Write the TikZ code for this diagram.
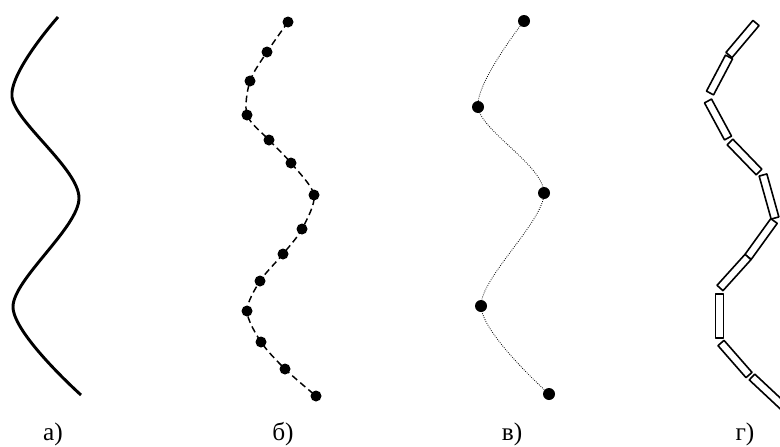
\documentclass[tikz,border=0pt]{standalone}
\usepackage{fontspec}
\setmainfont{Liberation Serif}
\usetikzlibrary{calc}

\begin{document}
\begin{tikzpicture}[x=0.75pt,y=-0.75pt,
    lbl/.style={font=\fontsize{19}{21}\selectfont},
    linkbar/.style={line width=1.2pt, line join=round, fill=white}]
    \clip (0,0) rectangle (780,446);
    % a) continuous chain
    \coordinate (A1) at (58,17);
    \coordinate (A2) at (12,97);
    \coordinate (A3) at (79,198);
    \coordinate (A4) at (13,307);
    \coordinate (A5) at (81,395);
    \draw[line width=2.2pt] plot[smooth] coordinates {(A1) (A2) (A3) (A4) (A5)};
    % b) beads with dashed bonds
    \foreach \x/\y [count=\i] in {288/22,267/52,250/81,247/115,269/140,291/163,314/195,
                                  302/229,283/254,260/281,247/311,261/342,285/369,316/396}
        {\coordinate (B\i) at (\x,\y);}
    \draw[line width=1.1pt, dash pattern=on 5pt off 3pt] plot[smooth] coordinates
        {(B1) (B2) (B3) (B4) (B5) (B6) (B7) (B8) (B9) (B10) (B11) (B12) (B13) (B14)};
    \foreach \i in {1,...,14} {\fill (B\i) circle (5.5);}
    % v) few beads, dotted
    \coordinate (C1) at (524,21);
    \coordinate (C2) at (478,107);
    \coordinate (C3) at (544,193);
    \coordinate (C4) at (481,306);
    \coordinate (C5) at (549,394);
    \draw[line width=0.6pt, densely dotted] plot[smooth] coordinates {(C1) (C2) (C3) (C4) (C5)};
    \foreach \p in {C1,C2,C3,C4,C5} {\fill (\p) circle (6);}
    % g) rigid segments
    \foreach \x/\y [count=\i] in {756/23,729/55, 729/57,710/93, 708/101,728/138, 730/142,759/172,
                                  763/175,775/218, 774/221,748/257, 748/257,720/288, 719.5/294,719.5/338,
                                  721/343,749/375, 752/377,783/406}
        {\coordinate (G\i) at (\x,\y);}
    \foreach \p/\q in {G1/G2,G3/G4,G5/G6,G7/G8,G9/G10,G11/G12,G13/G14,G15/G16,G17/G18,G19/G20}
        {\draw[linkbar] ($(\p)!3pt!90:(\q)$) -- ($(\q)!3pt!-90:(\p)$)
                     -- ($(\q)!3pt!90:(\p)$) -- ($(\p)!3pt!-90:(\q)$) -- cycle;}
    % labels
    \node[lbl] (la) at (53,434) {а)};
    \node[lbl] (lb) at (283,434) {б)};
    \node[lbl] (lv) at (512,434) {в)};
    \node[lbl] (lg) at (745,434) {г)};
\end{tikzpicture}
\end{document}
